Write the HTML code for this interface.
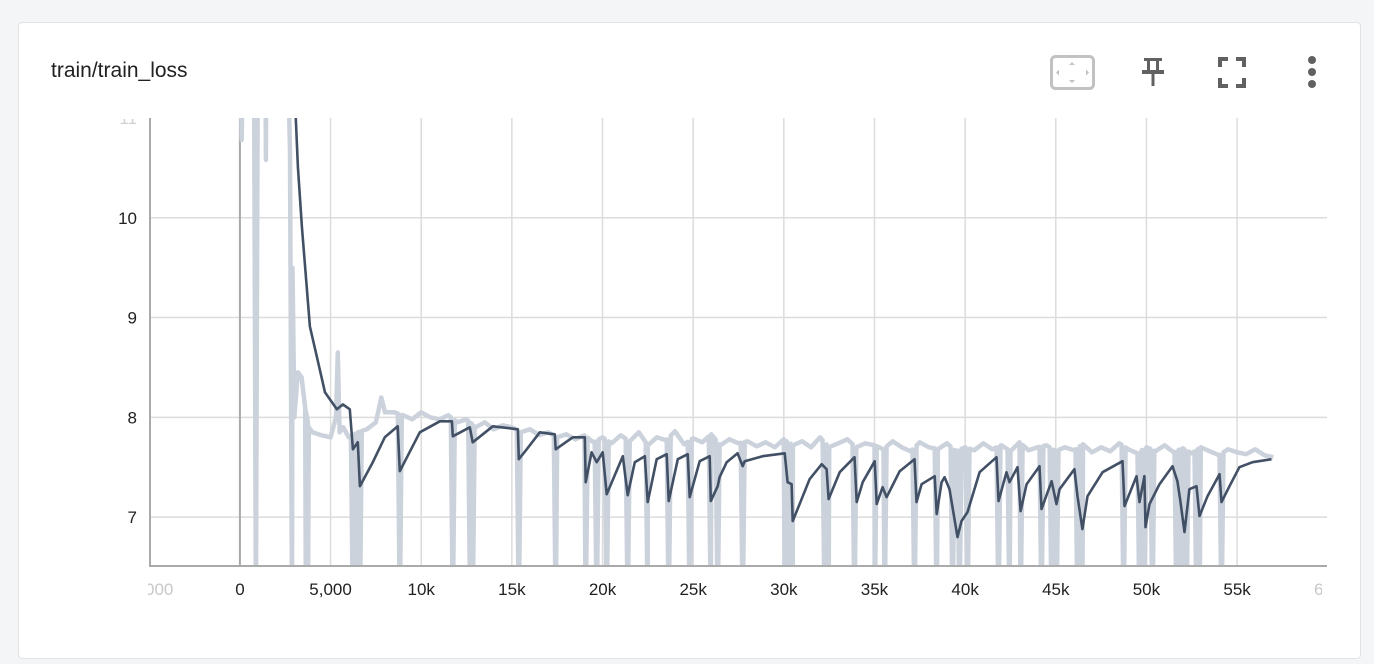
<!DOCTYPE html>
<html><head><meta charset="utf-8"><style>
html,body{margin:0;padding:0;background:#f4f5f7;width:1374px;height:664px;overflow:hidden;font-family:"Liberation Sans",sans-serif}
.card{position:absolute;left:18px;top:22px;width:1341px;height:635px;background:#fff;border:1px solid #e2e2e2;border-radius:4px}
.title{position:absolute;left:32px;top:36px;font-size:21px;color:#212121}
svg{position:absolute;left:0;top:0}
</style></head><body>
<div class="card">
<div class="title">train/train_loss</div>
</div>
<svg width="1374" height="664" id="chart">
<g>
<rect x="1051.5" y="56.5" width="42" height="32" rx="4" fill="none" stroke="#c2c2c2" stroke-width="3"/>
<path d="M1072 62 l-3 3 h6z M1072 83 l-3 -3 h6z M1056 72.5 l3 -3 v6z M1089 72.5 l-3 -3 v6z" fill="#c2c2c2"/>
</g>
<g fill="#616161">
<rect x="1144" y="58" width="18" height="3"/><rect x="1147" y="60" width="3" height="11"/><rect x="1156" y="60" width="3" height="11"/>
<rect x="1142" y="70" width="22" height="4"/><rect x="1151.5" y="73" width="3" height="13"/>
</g>
<g fill="none" stroke="#616161" stroke-width="4">
<path d="M1220 67v-8h8 M1236 59h8v8 M1244 78v8h-8 M1228 86h-8v-8"/>
</g>
<g fill="#616161">
<circle cx="1312" cy="60" r="4"/><circle cx="1312" cy="72" r="4"/><circle cx="1312" cy="84" r="4"/>
</g>
<defs><clipPath id="pc"><rect x="150" y="118" width="1177" height="448"/></clipPath>
<clipPath id="lc"><rect x="148" y="570" width="1174" height="40"/></clipPath>
<clipPath id="yc"><rect x="90" y="119" width="60" height="470"/></clipPath></defs>
<g id="grid"></g><g id="series" clip-path="url(#pc)"></g><g id="axes"></g>
<g id="ylabels" clip-path="url(#yc)"></g>
<g id="xlabels" clip-path="url(#lc)"></g>
</svg>
<script>
const xTicks=[-5000,0,5000,10000,15000,20000,25000,30000,35000,40000,45000,50000,55000,60000];
const xTickLabels=["-5,000","0","5,000","10k","15k","20k","25k","30k","35k","40k","45k","50k","55k","60k"];
const yTicks=[7,8,9,10,11];
const yTickLabels=["7","8","9","10","11"];
const smoothSteps=[3030,3200,3420,3860,4240,4690,5350,5680,6060,6230,6500,6615,7330,7990,8700,8820,9920,11030,11690,11740,12680,12840,13950,15330,15380,15820,16540,17370,17420,18360,19020,19070,19400,19680,20010,20230,21120,21390,21780,22330,22490,22990,23540,23650,24150,24700,24810,25360,25910,25970,26350,26460,26850,27450,27730,27840,28830,30050,30210,30430,30490,30870,31420,32090,32360,32470,33080,33900,34020,34350,35010,35120,35450,35670,36390,37210,37320,37600,38320,38430,38700,38870,39140,39580,39800,40130,40800,41730,41840,42280,42450,42890,43060,43390,44100,44210,44770,45040,45210,46030,46200,46470,46750,47580,48680,48790,49450,49620,49890,49950,50170,50720,51440,51710,51880,52100,52370,52760,52930,53370,54030,54140,54580,55130,55850,56900];
const smoothValues=[11.2,10.51,9.91,8.91,8.61,8.25,8.08,8.13,8.08,7.68,7.75,7.31,7.55,7.80,7.91,7.46,7.85,7.96,7.96,7.81,7.90,7.75,7.91,7.88,7.58,7.68,7.85,7.83,7.68,7.80,7.80,7.35,7.65,7.55,7.65,7.23,7.61,7.22,7.55,7.61,7.15,7.58,7.63,7.16,7.58,7.63,7.20,7.56,7.61,7.16,7.31,7.40,7.55,7.64,7.51,7.56,7.61,7.64,7.35,7.33,6.96,7.13,7.38,7.53,7.48,7.18,7.45,7.60,7.15,7.35,7.56,7.13,7.30,7.20,7.46,7.58,7.15,7.33,7.41,7.03,7.35,7.40,7.28,6.80,6.96,7.05,7.45,7.60,7.16,7.45,7.35,7.50,7.06,7.33,7.51,7.08,7.36,7.13,7.28,7.48,7.21,6.88,7.21,7.45,7.56,7.11,7.41,7.15,7.41,6.90,7.13,7.33,7.51,7.36,7.15,6.85,7.28,7.31,7.01,7.21,7.43,7.15,7.31,7.50,7.55,7.58];
const rawSteps=[0,100,200,1400,1430,1460,2600,2900,3000,3200,3400,3600,3800,4000,4500,5000,5300,5400,5500,5700,6000,6500,7000,7500,7800,8000,8500,9000,9500,10000,10500,11000,11500,12000,12500,13000,13500,14000,14500,15000,15500,16000,16500,17000,17500,18000,18500,19000,19500,20000,20500,21000,21500,22000,22500,23000,23500,24000,24500,25000,25500,26000,26500,27000,27500,28000,28500,29000,29500,30000,30500,31000,31500,32000,32500,33000,33500,34000,34500,35000,35500,36000,36500,37000,37500,38000,38500,39000,39500,40000,40500,41000,41500,42000,42500,43000,43500,44000,44500,45000,45500,46000,46500,47000,47500,48000,48500,49000,49500,50000,50500,51000,51500,52000,52500,53000,53500,54000,54500,55000,55500,56000,56500,57000];
const rawValues=[12,10.78,12,12,10.58,12,12,9.5,8.0,8.45,8.4,8.1,7.9,7.85,7.82,7.8,8.0,8.65,7.85,7.9,7.8,7.85,7.88,7.95,8.2,8.05,8.05,8.02,7.98,8.05,8.0,7.98,8.02,7.95,7.98,7.9,7.95,7.88,7.92,7.9,7.85,7.88,7.82,7.85,7.8,7.83,7.78,7.82,7.75,7.8,7.74,7.82,7.76,7.85,7.72,7.8,7.77,7.86,7.73,7.79,7.75,7.83,7.72,7.78,7.74,7.76,7.71,7.75,7.7,7.78,7.72,7.76,7.7,7.8,7.7,7.74,7.78,7.7,7.74,7.72,7.68,7.76,7.7,7.66,7.75,7.7,7.68,7.74,7.66,7.7,7.67,7.74,7.68,7.72,7.66,7.75,7.67,7.7,7.72,7.66,7.7,7.67,7.73,7.65,7.7,7.66,7.74,7.68,7.64,7.7,7.66,7.72,7.65,7.69,7.64,7.7,7.66,7.62,7.68,7.65,7.63,7.68,7.62,7.6];
const spikeSteps=[880,2870,3640,3750,6230,6450,6615,8820,11740,12700,12840,15380,17420,19070,19680,20230,21390,22490,23650,24810,25970,26350,27730,30050,30270,30490,32250,32470,33900,35010,35560,37210,38430,39310,39690,40130,41840,42450,43060,44210,44770,45040,46200,46470,48740,49620,49890,50330,51660,51940,52210,52760,52930,54140];
const X0=150,X1=1327,Y0=566,Y1=118;
const xMin=-4960,xMax=59960,yMin=6.51,yMax=11;
const sx=v=>X0+(v-xMin)/(xMax-xMin)*(X1-X0);
const sy=v=>Y0-(v-yMin)/(yMax-yMin)*(Y0-Y1);
const NS="http://www.w3.org/2000/svg";
function mk(tag,attrs,parent){const e=document.createElementNS(NS,tag);for(const k in attrs)e.setAttribute(k,attrs[k]);parent.appendChild(e);return e;}
const grid=document.getElementById('grid'),axes=document.getElementById('axes'),series=document.getElementById('series'),xl=document.getElementById('xlabels'),yl=document.getElementById('ylabels');
xTicks.forEach((t,i)=>{const x=sx(t);
 if(t!==0&&x>X0+2&&x<X1){const l=mk('line',{x1:x,x2:x,y1:Y1,y2:Y0,stroke:'#dcdcdc','stroke-width':1.5},grid);
 
 }
 const edge=(x<X0+20||x>X1-20);
 const tx=mk('text',{x:x,y:595,'text-anchor':'middle','font-size':17,fill:edge?'#c8c8c8':'#212121'},xl);tx.textContent=xTickLabels[i];
 
 
});
yTicks.forEach((t,i)=>{const y=sy(t);
 if(y>Y1+2){const l=mk('line',{x1:X0,x2:X1,y1:y,y2:y,stroke:'#dcdcdc','stroke-width':1.5},grid);
 
 }
 const tx=mk('text',{x:137,y:y+6,'text-anchor':'end','font-size':17,fill:y>Y1+2?'#212121':'#d0d0d0'},yl);tx.textContent=yTickLabels[i];
 
 
});
const zl=mk('line',{x1:sx(0),x2:sx(0),y1:Y1,y2:Y0,stroke:'#a9a9a9','stroke-width':2},grid);


const ya=mk('line',{x1:X0,x2:X0,y1:Y1,y2:Y0+1,stroke:'#aaa','stroke-width':2},axes);


const xa=mk('line',{x1:X0,x2:X1,y1:Y0,y2:Y0,stroke:'#aaa','stroke-width':2},axes);


function baseAt(s){for(let i=1;i<rawSteps.length;i++){if(rawSteps[i]>=s){const a=rawSteps[i-1],b=rawSteps[i];return rawValues[i-1]+(rawValues[i]-rawValues[i-1])*(s-a)/(b-a);}}return rawValues[rawValues.length-1];}
let pts=rawSteps.map((s,i)=>[s,rawValues[i]]);
spikeSteps.forEach(s=>{pts.push([s-110,baseAt(s-110)]);pts.push([s,6.0]);pts.push([s+110,baseAt(s+110)]);});
pts.sort((a,b)=>a[0]-b[0]);
const rp=mk('path',{d:'M'+pts.map(p=>sx(p[0]).toFixed(1)+','+sy(p[1]).toFixed(1)).join('L'),fill:'none',stroke:'#cbd2dc','stroke-width':4.5,'stroke-linejoin':'round'},series);


const sp=mk('path',{d:'M'+smoothSteps.map((s,i)=>sx(s).toFixed(1)+','+sy(smoothValues[i]).toFixed(1)).join('L'),fill:'none',stroke:'#425066','stroke-width':2.6,'stroke-linejoin':'round'},series);


</script>
</body></html>
